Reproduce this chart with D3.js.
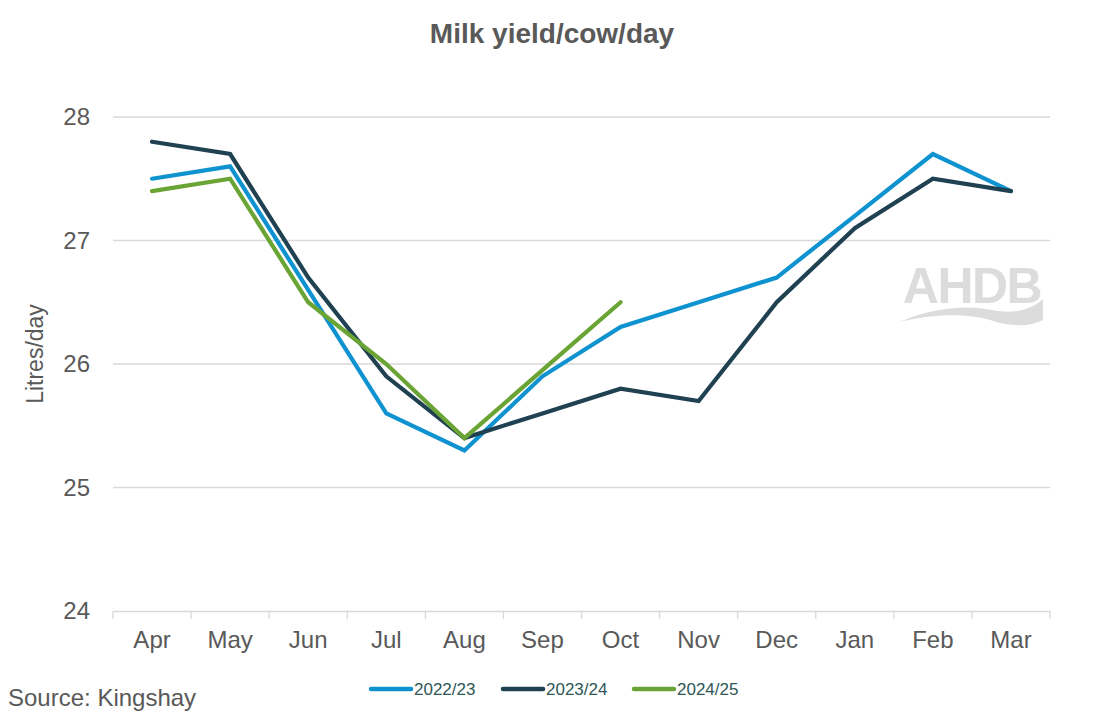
<!DOCTYPE html>
<html><head><meta charset="utf-8">
<script src="https://cdn.jsdelivr.net/npm/d3@7"></script>
<style>body{margin:0;background:#fff;} svg{display:block;font-family:"Liberation Sans",Arial,sans-serif;}</style>
</head><body>
<svg id="c" width="1103" height="718"></svg>
<script>
const months = ["Apr","May","Jun","Jul","Aug","Sep","Oct","Nov","Dec","Jan","Feb","Mar"];
const seriesNames = ["2022/23","2023/24","2024/25"];
const s2022 = [27.5,27.6,26.6,25.6,25.3,25.9,26.3,26.5,26.7,27.2,27.7,27.4];
const s2023 = [27.8,27.7,26.7,25.9,25.4,25.6,25.8,25.7,26.5,27.1,27.5,27.4];
const s2024 = [27.4,27.5,26.5,26.0,25.4,25.95,26.5];
const yTicks = [24,25,26,27,28];
const colors = ["#0e92d0","#1f4152","#6aa434"];

const svg = d3.select("#c");
const L=113, R=1050, T=117, B=611;
const x = d3.scaleBand().domain(months).range([L,R]);
const y = d3.scaleLinear().domain([24,28]).range([B,T]);
const FF = "Liberation Sans, Arial, sans-serif";

// watermark logo
const logo = svg.append("g").attr("fill","#dcdcdc");
logo.append("text").attr("x",972).attr("y",303).attr("text-anchor","middle")
  .attr("font-size",50).attr("font-weight","bold").attr("letter-spacing","-1.5").text("AHDB");
logo.append("path").attr("d","M899,322 C930,309 962,304 992,310 C1012,314 1030,311 1043,299 L1043,320 C1030,327 1010,327 990,320 C962,312 930,315 899,322 Z");

// grid
svg.append("g").selectAll("line").data(yTicks.filter(d=>d>24)).join("line")
  .attr("x1",L).attr("x2",R).attr("y1",d=>y(d)).attr("y2",d=>y(d))
  .attr("stroke","#d9d9d9").attr("stroke-width",1.3);

// x axis
const xa = svg.append("g").attr("transform",`translate(0,${B})`)
  .call(d3.axisBottom(x).tickSize(0).tickPadding(20));
xa.select(".domain").attr("stroke","#d9d9d9").attr("stroke-width",1.3);
xa.selectAll("text").attr("font-size",24).attr("fill","#595959").attr("font-family",FF);
const bounds = months.map(m=>x(m)).concat([R]);
svg.append("g").selectAll("line").data(bounds).join("line")
  .attr("x1",d=>d).attr("x2",d=>d).attr("y1",B).attr("y2",B+8)
  .attr("stroke","#d9d9d9").attr("stroke-width",1.3);

// y axis labels
const ya = svg.append("g").attr("transform",`translate(${L},0)`)
  .call(d3.axisLeft(y).tickValues(yTicks).tickFormat(d3.format("d")).tickSize(0).tickPadding(23));
ya.select(".domain").remove();
ya.selectAll("text").attr("font-size",24).attr("fill","#595959").attr("font-family",FF);

// lines
const line = d3.line().x((d,i)=>x(months[i])+x.bandwidth()/2).y(d=>y(d));
[s2022,s2023,s2024].forEach((s,i)=>{
  svg.append("path").datum(s).attr("d",line).attr("fill","none")
    .attr("stroke",colors[i]).attr("stroke-width",4.2).attr("stroke-linejoin","miter").attr("stroke-linecap","round");
});

// title
svg.append("text").attr("x",552).attr("y",43).attr("text-anchor","middle")
  .attr("font-size",28).attr("font-weight","bold").attr("fill","#595959").text("Milk yield/cow/day");
// y label
svg.append("text").attr("transform","translate(43,354) rotate(-90)").attr("text-anchor","middle")
  .attr("font-size",23).attr("fill","#595959").text("Litres/day");
// source
svg.append("text").attr("x",8).attr("y",706).attr("font-size",24).attr("fill","#595959").text("Source: Kingshay");

// legend
const lg = svg.append("g");
const lx = [369,501,632];
seriesNames.forEach((n,i)=>{
  lg.append("line").attr("x1",lx[i]+2).attr("x2",lx[i]+42).attr("y1",689).attr("y2",689)
    .attr("stroke",colors[i]).attr("stroke-width",4.5).attr("stroke-linecap","round");
  lg.append("text").attr("x",lx[i]+45).attr("y",695).attr("font-size",17).attr("fill","#2e5655").text(n);
});
</script>
</body></html>
